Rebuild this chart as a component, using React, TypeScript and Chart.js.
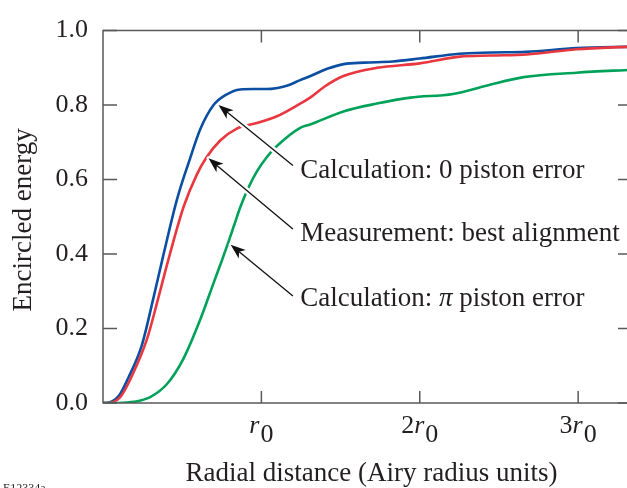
import React, { useEffect, useRef } from "react";
import { Chart, registerables } from "chart.js";

Chart.register(...registerables);

// ---- data ----
const blueX = [0.0, 0.015, 0.1, 0.16, 0.245, 0.32, 0.38, 0.466, 0.55, 0.614, 0.698, 0.77, 0.866, 0.95, 1.034, 1.16, 1.245, 1.31, 1.42, 1.52, 1.65, 1.83, 2.0, 2.25, 2.45, 2.67, 2.99, 3.34];
const blueY = [0.0, 0.0, 0.019, 0.068, 0.155, 0.285, 0.395, 0.545, 0.657, 0.735, 0.8, 0.826, 0.842, 0.843, 0.843, 0.852, 0.867, 0.878, 0.898, 0.91, 0.914, 0.917, 0.925, 0.938, 0.941, 0.943, 0.953, 0.957];

const redX = [0.0, 0.02, 0.109, 0.183, 0.278, 0.351, 0.404, 0.509, 0.593, 0.656, 0.74, 0.845, 0.972, 1.098, 1.245, 1.308, 1.4, 1.518, 1.729, 2.0, 2.254, 2.45, 2.675, 2.99, 3.34];
const redY = [0.0, 0.0, 0.016, 0.073, 0.172, 0.285, 0.371, 0.527, 0.614, 0.661, 0.705, 0.737, 0.752, 0.77, 0.804, 0.82, 0.85, 0.878, 0.9, 0.912, 0.93, 0.933, 0.936, 0.95, 0.957];

const greenX = [0.0, 0.1, 0.193, 0.298, 0.404, 0.509, 0.614, 0.698, 0.75, 0.79, 0.83, 0.866, 0.92, 0.972, 1.03, 1.098, 1.245, 1.308, 1.518, 1.729, 1.94, 2.21, 2.42, 2.655, 2.99, 3.34];
const greenY = [0.0, 0.0, 0.003, 0.016, 0.051, 0.12, 0.224, 0.322, 0.382, 0.43, 0.48, 0.525, 0.58, 0.622, 0.658, 0.69, 0.739, 0.748, 0.783, 0.804, 0.82, 0.83, 0.852, 0.875, 0.887, 0.895];

const yTickValues = [0, 0.2, 0.4, 0.6, 0.8, 1.0];
const xTickValues = [1, 2, 3];
const xTickPrefixes = ["", "2", "3"];

const annotationLabels = ["Calculation: 0 piston error", "Measurement: best alignment", "Calculation: \u03C0 piston error"];
const annotationTextX = [1.246, 1.246, 1.246];
const annotationTextY = [0.605, 0.436, 0.26];
const arrowTailX = [1.199, 1.199, 1.199];
const arrowTailY = [0.638, 0.467, 0.2875];
const arrowTipX = [0.729, 0.666, 0.806];
const arrowTipY = [0.8, 0.657, 0.425];

const xTitle = "Radial distance (Airy radius units)";
const yTitle = "Encircled energy";
const figureId = "E12334a";

const FONT = "'Liberation Serif', 'Times New Roman', serif";
const TEXT = "#231f20";
const AXIS = "#58595b";

const toPts = (xs: number[], ys: number[]) => xs.map((x, i) => ({ x, y: ys[i] }));

const overlay = {
  id: "overlay",
  afterDatasetsDraw(chart: any) {
    const { ctx, chartArea: a, scales } = chart;
    const xs = scales.x;
    const ys = scales.y;
    ctx.save();

    // arrows with white halo
    for (let i = 0; i < arrowTailX.length; i++) {
      const x0 = xs.getPixelForValue(arrowTailX[i]);
      const y0 = ys.getPixelForValue(arrowTailY[i]);
      const x1 = xs.getPixelForValue(arrowTipX[i]);
      const y1 = ys.getPixelForValue(arrowTipY[i]);
      const ang = Math.atan2(y1 - y0, x1 - x0);
      const L = 15, W = 5.5, N = 11;
      const bx = x1 - L * Math.cos(ang), by = y1 - L * Math.sin(ang);
      const nx = x1 - N * Math.cos(ang), ny = y1 - N * Math.sin(ang);
      const px = -Math.sin(ang), py = Math.cos(ang);
      const head = () => {
        ctx.beginPath();
        ctx.moveTo(x1, y1);
        ctx.lineTo(bx + px * W, by + py * W);
        ctx.lineTo(nx, ny);
        ctx.lineTo(bx - px * W, by - py * W);
        ctx.closePath();
      };
      ctx.strokeStyle = "#ffffff";
      ctx.lineWidth = 6;
      ctx.lineCap = "butt";
      ctx.beginPath();
      ctx.moveTo(x0, y0);
      ctx.lineTo(nx, ny);
      ctx.stroke();
      ctx.lineWidth = 4;
      ctx.lineJoin = "round";
      head();
      ctx.stroke();
      ctx.strokeStyle = "#111111";
      ctx.lineWidth = 1.3;
      ctx.beginPath();
      ctx.moveTo(x0, y0);
      ctx.lineTo(nx, ny);
      ctx.stroke();
      ctx.fillStyle = "#111111";
      head();
      ctx.fill();
    }

    // frame
    ctx.strokeStyle = AXIS;
    ctx.lineWidth = 1.5;
    ctx.strokeRect(a.left, a.top, a.right - a.left, a.bottom - a.top);

    // inward ticks
    ctx.beginPath();
    for (const v of yTickValues) {
      const p = ys.getPixelForValue(v);
      ctx.moveTo(a.left, p);
      ctx.lineTo(a.left + 14, p);
      ctx.moveTo(a.right, p);
      ctx.lineTo(a.right - 14, p);
    }
    for (const v of xTickValues) {
      const p = xs.getPixelForValue(v);
      ctx.moveTo(p, a.bottom);
      ctx.lineTo(p, a.bottom - 12);
      ctx.moveTo(p, a.top);
      ctx.lineTo(p, a.top + 12);
    }
    ctx.stroke();

    ctx.fillStyle = TEXT;
    ctx.textBaseline = "alphabetic";

    // x tick labels: n r_0
    const tickNormal = `26px ${FONT}`;
    const tickItalic = `italic 26px ${FONT}`;
    xTickValues.forEach((v, i) => {
      const p = xs.getPixelForValue(v);
      const pre = xTickPrefixes[i];
      ctx.font = tickNormal;
      const w1 = ctx.measureText(pre).width;
      const w3 = ctx.measureText("0").width;
      ctx.font = tickItalic;
      const w2 = ctx.measureText("r").width;
      const total = w1 + w2 + w3 + 1;
      let cx = p - total / 2;
      const base = a.bottom + 30;
      ctx.textAlign = "left";
      ctx.font = tickNormal;
      ctx.fillText(pre, cx, base);
      cx += w1;
      ctx.font = tickItalic;
      ctx.fillText("r", cx, base);
      cx += w2 + 1;
      ctx.font = tickNormal;
      ctx.fillText("0", cx, base + 9);
    });

    // annotations
    const normal = `27px ${FONT}`;
    const italic = `italic 27px ${FONT}`;
    annotationLabels.forEach((label, i) => {
      const tx = xs.getPixelForValue(annotationTextX[i]);
      const ty = ys.getPixelForValue(annotationTextY[i]);
      ctx.textAlign = "left";
      const idx = label.indexOf("\u03C0");
      if (idx >= 0) {
        const before = label.slice(0, idx);
        const after = label.slice(idx + 1);
        ctx.font = normal;
        ctx.fillText(before, tx, ty);
        let cx = tx + ctx.measureText(before).width;
        ctx.font = italic;
        ctx.fillText("\u03C0", cx, ty);
        cx += ctx.measureText("\u03C0").width;
        ctx.font = normal;
        ctx.fillText(after, cx, ty);
      } else {
        ctx.font = normal;
        ctx.fillText(label, tx, ty);
      }
    });

    // axis titles
    ctx.font = normal;
    ctx.textAlign = "center";
    ctx.fillText(xTitle, (a.left + a.right) / 2 + 4, 481);
    ctx.save();
    ctx.translate(31, (a.top + a.bottom) / 2 + 3);
    ctx.rotate(-Math.PI / 2);
    ctx.fillText(yTitle, 0, 0);
    ctx.restore();

    // figure id (mostly cut off at bottom)
    ctx.font = `12px ${FONT}`;
    ctx.textAlign = "left";
    ctx.fillText(figureId, 3, 492);

    ctx.restore();
  },
};

export default function App() {
  const ref = useRef<HTMLCanvasElement | null>(null);
  useEffect(() => {
    if (!ref.current) return;
    const chart = new Chart(ref.current, {
      type: "line",
      data: {
        datasets: [
          { data: toPts(greenX, greenY), borderColor: "#00a25a", borderWidth: 2.6, pointRadius: 0, cubicInterpolationMode: "monotone", fill: false },
          { data: toPts(redX, redY), borderColor: "#e8373e", borderWidth: 2.6, pointRadius: 0, cubicInterpolationMode: "monotone", fill: false },
          { data: toPts(blueX, blueY), borderColor: "#0b4ea2", borderWidth: 2.6, pointRadius: 0, cubicInterpolationMode: "monotone", fill: false },
        ],
      },
      options: {
        responsive: false,
        animation: false,
        events: [],
        layout: { padding: { left: 0, top: 18, right: 8, bottom: 0 } },
        plugins: { legend: { display: false }, tooltip: { enabled: false }, title: { display: false } },
        scales: {
          x: {
            type: "linear",
            min: 0,
            max: 3.34,
            grid: { display: false },
            border: { display: false },
            ticks: { display: false },
            afterFit: (s: any) => { s.height = 85; },
          },
          y: {
            type: "linear",
            min: 0,
            max: 1,
            grid: { display: false, drawTicks: false },
            border: { display: false },
            ticks: {
              stepSize: 0.2,
              padding: 15,
              color: TEXT,
              font: { family: FONT, size: 26 },
              callback: (v: any) => Number(v).toFixed(1),
            },
            afterFit: (s: any) => { s.width = 103; },
          },
        },
      },
      plugins: [overlay],
    });
    return () => chart.destroy();
  }, []);
  return (
    <div style={{ position: "fixed", left: 0, top: 0, width: 640, height: 488, background: "#fff" }}>
      <canvas ref={ref} width={640} height={488} style={{ display: "block" }} />
    </div>
  );
}
